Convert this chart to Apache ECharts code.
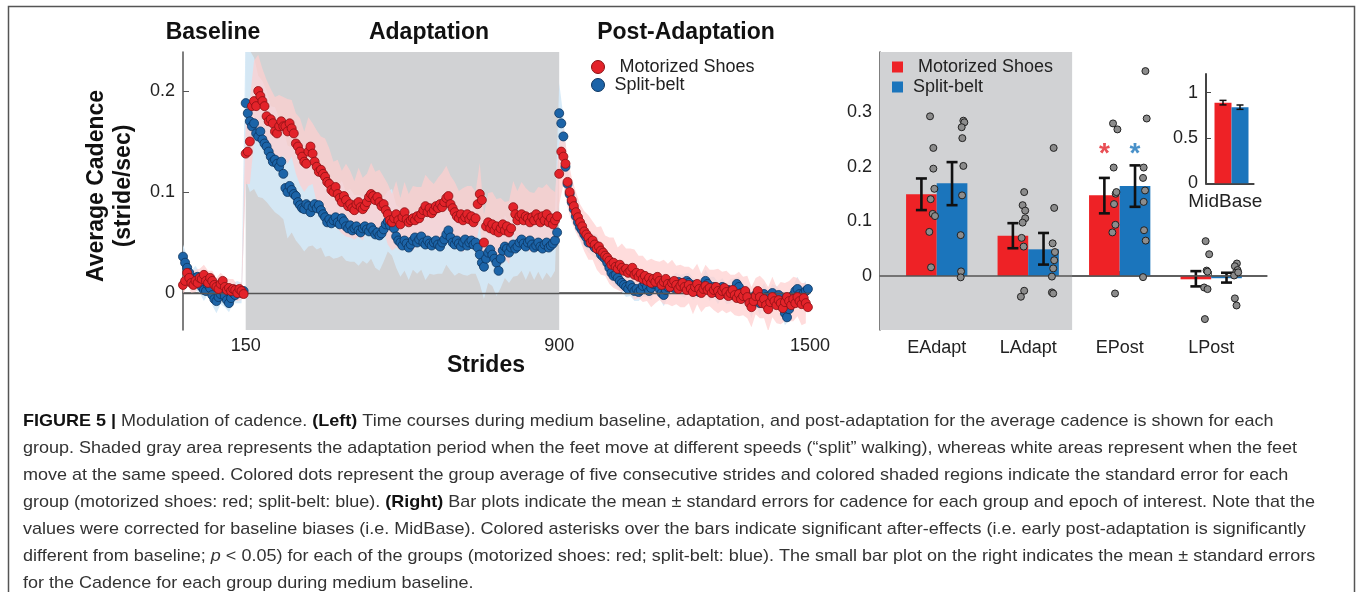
<!DOCTYPE html>
<html>
<head>
<meta charset="utf-8">
<script src="https://cdn.jsdelivr.net/npm/echarts@6/dist/echarts.min.js"></script>
<style>
html, body { margin: 0; padding: 0; background: #fff; }
#main { width: 1357px; height: 592px; }
</style>
</head>
<body>
<div id="main"></div>
<script>
// ---------- time course (left) : group means every 5 strides ----------
var BASE_START = 0, ADAPT_START = 150, POST_START = 900;
var DOT_STEP = 5, SE_STEP = 10;

var redBase = [0.008, 0.012, 0.02, 0.015, 0.01, 0.008, 0.012, 0.01, 0.015, 0.014,
  0.018, 0.012, 0.01, 0.015, 0.012, 0.008, 0.006, 0.004, 0.009, 0.012,
  0.006, 0.003, 0.005, 0.002, 0.004, 0.003, 0.0, 0.004, 0.002, -0.001];
var blueBase = [0.036, 0.03, 0.025, 0.02, 0.012, 0.009, 0.015, 0.016, 0.01, 0.006,
  0.003, 0.002, 0.008, 0.005, -0.002, -0.006, -0.008, -0.004, -0.001, 0.002,
  -0.003, -0.007, -0.01, -0.005, 0.0, -0.002, 0.001, 0.003, 0.0, 0.002];

var redAdapt = [
  0.138, 0.14, 0.15, 0.185, 0.19, 0.185, 0.2, 0.195, 0.19, 0.185,
  0.175, 0.17, 0.172, 0.168, 0.16, 0.158, 0.165, 0.17, 0.165, 0.165,
  0.16, 0.168, 0.163, 0.158, 0.148, 0.145, 0.14, 0.135, 0.13, 0.128,
  0.14, 0.145, 0.138, 0.13, 0.125, 0.12, 0.122, 0.118, 0.115, 0.11,
  0.108, 0.102, 0.1, 0.105, 0.098, 0.094, 0.09, 0.096, 0.092, 0.086,
  0.088, 0.084, 0.082, 0.088, 0.09, 0.085, 0.083, 0.086, 0.09, 0.095,
  0.098, 0.096, 0.092, 0.095, 0.09, 0.086, 0.088, 0.082, 0.078, 0.072,
  0.07, 0.074, 0.078, 0.072, 0.068, 0.075, 0.08, 0.073, 0.07, 0.072,
  0.074, 0.072, 0.076, 0.074, 0.078, 0.082, 0.086, 0.08, 0.084, 0.079,
  0.082, 0.086, 0.084, 0.088, 0.085, 0.09, 0.094, 0.096, 0.088, 0.084,
  0.08, 0.076, 0.074, 0.078, 0.072, 0.075, 0.078, 0.073, 0.076, 0.07,
  0.074, 0.088, 0.098, 0.092, 0.05, 0.066, 0.07, 0.064, 0.068, 0.062,
  0.066, 0.06, 0.064, 0.068, 0.062, 0.066, 0.06, 0.064, 0.085, 0.078,
  0.072, 0.076, 0.078, 0.072, 0.076, 0.074, 0.07, 0.075, 0.072, 0.078,
  0.074, 0.07, 0.076, 0.072, 0.078, 0.07, 0.074, 0.068, 0.072, 0.076];
var blueAdapt = [
  0.188, 0.178, 0.17, 0.165, 0.168, 0.158, 0.155, 0.16, 0.152, 0.148,
  0.145, 0.14, 0.135, 0.13, 0.132, 0.128, 0.125, 0.13, 0.118, 0.104,
  0.1, 0.106, 0.102, 0.098, 0.096, 0.09, 0.087, 0.084, 0.083, 0.088,
  0.086, 0.08, 0.085, 0.088, 0.084, 0.087, 0.082, 0.078, 0.075, 0.07,
  0.073, 0.069, 0.072, 0.075, 0.07, 0.068, 0.074, 0.071, 0.066, 0.064,
  0.067, 0.062, 0.064, 0.066, 0.062, 0.06, 0.064, 0.066, 0.063, 0.061,
  0.065, 0.062, 0.058, 0.06, 0.057, 0.059, 0.063, 0.068, 0.071, 0.067,
  0.07, 0.064, 0.056, 0.052, 0.05, 0.047, 0.052, 0.049, 0.045, 0.048,
  0.052, 0.055, 0.05, 0.053, 0.056, 0.05, 0.048, 0.052, 0.049, 0.047,
  0.05, 0.052, 0.048, 0.046, 0.05, 0.053, 0.058, 0.062, 0.055, 0.05,
  0.048, 0.052, 0.049, 0.046, 0.05, 0.053, 0.047, 0.05, 0.052, 0.048,
  0.05, 0.045, 0.038, 0.03, 0.026, 0.034, 0.04, 0.043, 0.038, 0.034,
  0.03, 0.022, 0.034, 0.042, 0.046, 0.044, 0.04, 0.045, 0.048, 0.044,
  0.046, 0.05, 0.053, 0.049, 0.046, 0.05, 0.052, 0.048, 0.045, 0.047,
  0.05, 0.046, 0.044, 0.048, 0.05, 0.045, 0.047, 0.049, 0.052, 0.06];

var redPost = [
  0.118, 0.14, 0.135, 0.128, 0.11, 0.1, 0.092, 0.086, 0.08, 0.075,
  0.07, 0.066, 0.061, 0.058, 0.055, 0.05, 0.052, 0.048, 0.044, 0.046,
  0.042, 0.04, 0.037, 0.035, 0.032, 0.028, 0.03, 0.026, 0.024, 0.028,
  0.025, 0.022, 0.024, 0.02, 0.022, 0.025, 0.018, 0.02, 0.016, 0.019,
  0.014, 0.017, 0.012, 0.015, 0.01, 0.014, 0.011, 0.016, 0.012, 0.008,
  0.011, 0.014, 0.009, 0.006, 0.01, 0.012, 0.008, 0.004, 0.007, 0.01,
  0.006, 0.003, 0.008, 0.004, 0.001, 0.006, 0.009, 0.004, 0.0, 0.004,
  0.007, 0.003, 0.005, 0.0, 0.003, 0.006, 0.002, -0.002, 0.002, 0.005,
  0.001, -0.003, 0.0, 0.003, -0.002, -0.005, -0.001, -0.006, -0.003, 0.002,
  -0.004, -0.01, -0.014, -0.008, -0.003, 0.002, -0.004, -0.01, -0.006, -0.012,
  -0.016, -0.009, -0.004, -0.008, -0.012, -0.007, -0.01, -0.015, -0.009, -0.004,
  -0.008, -0.012, -0.006, -0.01, -0.004, -0.008, -0.011, -0.005, -0.01, -0.014];
var bluePost = [
  0.178, 0.168, 0.155, 0.125, 0.108, 0.098, 0.09, 0.083, 0.076, 0.07,
  0.065, 0.062, 0.058, 0.055, 0.05, 0.052, 0.048, 0.045, 0.046, 0.042,
  0.038, 0.036, 0.034, 0.03, 0.025, 0.02, 0.017, 0.018, 0.015, 0.012,
  0.01, 0.008, 0.006, 0.004, 0.008, 0.005, 0.002, 0.004, 0.001, 0.003,
  0.007, 0.01, 0.006, 0.002, 0.005, 0.009, 0.012, 0.008, 0.004, 0.0,
  -0.002, 0.003, 0.006, 0.01, 0.008, 0.005, 0.009, 0.011, 0.008, 0.01,
  0.007, 0.012, 0.01, 0.006, 0.004, 0.008, 0.005, 0.001, 0.004, 0.008,
  0.012, 0.009, 0.004, 0.002, 0.006, 0.003, 0.0, 0.004, 0.006, 0.002,
  -0.001, 0.003, 0.002, -0.002, 0.004, 0.009, 0.006, 0.0, -0.004, 0.001,
  -0.003, -0.008, -0.012, -0.006, -0.002, -0.006, -0.01, -0.005, -0.001, -0.004,
  -0.008, -0.003, 0.0, -0.005, -0.004, -0.002, -0.008, -0.014, -0.02, -0.024,
  -0.016, -0.008, -0.002, 0.002, 0.004, -0.001, -0.004, 0.0, 0.002, 0.004];

// standard error, every 10 strides
var redSEBase = [0.01, 0.012, 0.01, 0.011, 0.009, 0.01, 0.012, 0.01, 0.009, 0.011, 0.01, 0.009, 0.01, 0.008, 0.009];
var blueSEBase = [0.012, 0.011, 0.01, 0.012, 0.01, 0.011, 0.009, 0.01, 0.012, 0.01, 0.011, 0.009, 0.01, 0.011, 0.01];
var redSEAdapt = [
  0.03, 0.042, 0.04, 0.036, 0.032, 0.036, 0.03, 0.034, 0.031, 0.029, 0.032, 0.028, 0.03, 0.033, 0.03,
  0.034, 0.03, 0.036, 0.033, 0.038, 0.035, 0.03, 0.034, 0.031, 0.036, 0.033, 0.029, 0.034, 0.031, 0.028,
  0.031, 0.028, 0.032, 0.027, 0.03, 0.028, 0.033, 0.026, 0.03, 0.028, 0.032, 0.029, 0.027, 0.031, 0.028,
  0.026, 0.03, 0.034, 0.032, 0.028, 0.03, 0.027, 0.032, 0.028, 0.03, 0.026, 0.031, 0.028, 0.029, 0.032,
  0.027, 0.03, 0.028, 0.031, 0.026, 0.029, 0.032, 0.028, 0.03, 0.027, 0.031, 0.028, 0.03, 0.029, 0.028];
var blueSEAdapt = [
  0.075, 0.07, 0.065, 0.06, 0.058, 0.055, 0.05, 0.052, 0.048, 0.045, 0.046, 0.042, 0.044, 0.04, 0.042,
  0.04, 0.038, 0.041, 0.037, 0.039, 0.036, 0.038, 0.035, 0.037, 0.034, 0.036, 0.033, 0.035, 0.032, 0.034,
  0.031, 0.033, 0.035, 0.032, 0.03, 0.033, 0.031, 0.034, 0.03, 0.032, 0.029, 0.031, 0.033, 0.035, 0.03,
  0.032, 0.029, 0.031, 0.03, 0.033, 0.031, 0.029, 0.032, 0.03, 0.033, 0.031, 0.029, 0.032, 0.03, 0.031,
  0.033, 0.029, 0.031, 0.03, 0.032, 0.029, 0.031, 0.033, 0.03, 0.032, 0.029, 0.031, 0.03, 0.032, 0.03];
var redSEPost = [
  0.03, 0.028, 0.025, 0.022, 0.02, 0.018, 0.02, 0.022, 0.019, 0.021,
  0.024, 0.02, 0.023, 0.025, 0.021, 0.024, 0.02, 0.022, 0.025, 0.021,
  0.023, 0.02, 0.024, 0.021, 0.019, 0.022, 0.02, 0.023, 0.019, 0.021,
  0.02, 0.018, 0.022, 0.02, 0.019, 0.021, 0.018, 0.02, 0.022, 0.019,
  0.021, 0.018, 0.02, 0.022, 0.019, 0.021, 0.02, 0.018, 0.021, 0.019,
  0.022, 0.02, 0.018, 0.021, 0.019, 0.02, 0.022, 0.019, 0.021, 0.02];
var blueSEPost = [
  0.03, 0.02, 0.015, 0.013, 0.012, 0.011, 0.012, 0.01, 0.011, 0.012,
  0.01, 0.011, 0.009, 0.01, 0.011, 0.009, 0.01, 0.011, 0.01, 0.009,
  0.011, 0.01, 0.012, 0.01, 0.009, 0.011, 0.01, 0.009, 0.011, 0.01,
  0.012, 0.01, 0.011, 0.009, 0.01, 0.011, 0.012, 0.01, 0.011, 0.009,
  0.01, 0.012, 0.011, 0.01, 0.009, 0.011, 0.013, 0.01, 0.012, 0.011,
  0.01, 0.009, 0.011, 0.01, 0.012, 0.011, 0.01, 0.012, 0.011, 0.01];

var strideTicks = [150, 900, 1500];
var cadenceTicks = [0, 0.1, 0.2];

// ---------- epochs (right) ----------
var epochs = ['EAdapt', 'LAdapt', 'EPost', 'LPost'];
var redMeans = [0.15, 0.074, 0.148, -0.006];
var redLo = [0.121, 0.051, 0.115, -0.019];
var redHi = [0.179, 0.097, 0.18, 0.009];
var blueMeans = [0.17, 0.049, 0.165, -0.004];
var blueLo = [0.13, 0.021, 0.127, -0.012];
var blueHi = [0.209, 0.079, 0.203, 0.006];

var redSubj = [
  [0.293, 0.235, 0.197, 0.16, 0.141, 0.114, 0.11, 0.081, 0.016],
  [0.154, 0.13, 0.12, 0.106, 0.098, 0.07, 0.054, -0.027, -0.038],
  [0.28, 0.269, 0.199, 0.151, 0.154, 0.132, 0.094, 0.08, -0.032],
  [0.064, 0.04, 0.01, 0.008, -0.021, -0.024, -0.079]];
var redJitter = [
  [-0.073, -0.037, -0.037, -0.026, -0.066, -0.044, -0.019, -0.081, -0.062],
  [-0.044, -0.061, -0.033, -0.033, -0.061, -0.072, -0.05, -0.044, -0.08],
  [-0.073, -0.025, -0.066, -0.044, -0.036, -0.062, -0.047, -0.08, -0.051],
  [-0.061, -0.022, -0.05, -0.04, -0.077, -0.04, -0.069]];
var blueSubj = [
  [0.285, 0.282, 0.273, 0.253, 0.202, 0.148, 0.075, 0.0085, -0.0024],
  [0.235, 0.125, 0.06, 0.044, 0.029, 0.014, -0.001, -0.03, -0.032],
  [0.376, 0.289, 0.199, 0.18, 0.157, 0.136, 0.084, 0.065, -0.002],
  [0.023, 0.018, 0.011, 0.006, 0.001, 0.0067, -0.041, -0.054]];
var blueJitter = [
  [0.291, 0.302, 0.273, 0.28, 0.291, 0.277, 0.262, 0.266, 0.262],
  [0.278, 0.284, 0.267, 0.292, 0.284, 0.273, 0.259, 0.259, 0.273],
  [0.281, 0.295, 0.262, 0.255, 0.277, 0.262, 0.266, 0.284, 0.255],
  [0.281, 0.259, 0.288, 0.27, 0.251, 0.295, 0.259, 0.277]];
var sigEpoch = 3, sigLevel = 0.237;   // asterisks over EPost
var epochTicks = [0, 0.1, 0.2, 0.3];

// ---------- MidBase inset ----------
var midRed = 0.89, midRedLo = 0.865, midRedHi = 0.915;
var midBlue = 0.838, midBlueLo = 0.816, midBlueHi = 0.864;
var midTicks = [0, 0.5, 1];

// ---------- build ----------
var FONT = 'Liberation Sans';
var RED = '#e3232a', BLUE = '#1c64a8';
var BAR_RED = '#ee2226', BAR_BLUE = '#1b75bc';
var GRAY = '#d1d2d4';
var OFF = 0.1675;   // half bar width, in epoch units

function seq(arr, start) {
  return arr.map(function (v, i) { return [start + i * DOT_STEP, v]; });
}
function band(means, ses, start) {
  return ses.map(function (se, k) {
    var m = means[k * 2];
    return [start + k * SE_STEP, m - se, m + se];
  });
}
var redPts = seq(redBase, BASE_START).concat(seq(redAdapt, ADAPT_START), seq(redPost, POST_START));
var bluePts = seq(blueBase, BASE_START).concat(seq(blueAdapt, ADAPT_START), seq(bluePost, POST_START));
var redBand = band(redBase, redSEBase, BASE_START).concat(band(redAdapt, redSEAdapt, ADAPT_START), band(redPost, redSEPost, POST_START));
var blueBand = band(blueBase, blueSEBase, BASE_START).concat(band(blueAdapt, blueSEAdapt, ADAPT_START), band(bluePost, blueSEPost, POST_START));

function bandRender(points, fill) {
  return function (params, api) {
    if (params.dataIndex !== 0) return null;
    var up = [], lo = [];
    points.forEach(function (p) {
      up.push(api.coord([p[0], p[2]]));
      lo.push(api.coord([p[0], p[1]]));
    });
    return { type: 'polygon', shape: { points: up.concat(lo.reverse()) }, style: { fill: fill } };
  };
}
function barRender(off, hw, color) {
  return function (params, api) {
    var x = api.value(0) + off, v = api.value(1);
    var a = api.coord([x - hw, v]), b = api.coord([x + hw, 0]);
    return { type: 'rect', shape: { x: a[0], y: Math.min(a[1], b[1]), width: b[0] - a[0], height: Math.abs(b[1] - a[1]) }, style: { fill: color } };
  };
}
function errRender(off, cap, lw) {
  return function (params, api) {
    var x = api.value(0) + off;
    var lo = api.coord([x, api.value(1)]), hi = api.coord([x, api.value(2)]);
    var st = { stroke: '#111', lineWidth: lw };
    return { type: 'group', children: [
      { type: 'line', shape: { x1: lo[0], y1: lo[1], x2: hi[0], y2: hi[1] }, style: st },
      { type: 'line', shape: { x1: lo[0] - cap, y1: lo[1], x2: lo[0] + cap, y2: lo[1] }, style: st },
      { type: 'line', shape: { x1: hi[0] - cap, y1: hi[1], x2: hi[0] + cap, y2: hi[1] }, style: st }
    ] };
  };
}
function subjPts(vals, jit) {
  var out = [];
  vals.forEach(function (row, i) {
    row.forEach(function (v, j) { out.push([i + 1 + jit[i][j], v]); });
  });
  return out;
}

var redBars = redMeans.map(function (v, i) { return [i + 1, v]; });
var blueBars = blueMeans.map(function (v, i) { return [i + 1, v]; });
var redErr = redMeans.map(function (v, i) { return [i + 1, redLo[i], redHi[i]]; });
var blueErr = blueMeans.map(function (v, i) { return [i + 1, blueLo[i], blueHi[i]]; });

var caption = [
  '{b|FIGURE 5 |} Modulation of cadence. {b|(Left)} Time courses during medium baseline, adaptation, and post-adaptation for the average cadence is shown for each',
  'group. Shaded gray area represents the adaptation period when the feet move at different speeds (\u201csplit\u201d walking), whereas white areas represent when the feet',
  'move at the same speed. Colored dots represent the group average of five consecutive strides and colored shaded regions indicate the standard error for each',
  'group (motorized shoes: red; split-belt: blue). {b|(Right)} Bar plots indicate the mean \u00b1 standard errors for cadence for each group and epoch of interest. Note that the',
  'values were corrected for baseline biases (i.e. MidBase). Colored asterisks over the bars indicate significant after-effects (i.e. early post-adaptation is significantly',
  'different from baseline; {i|p} < 0.05) for each of the groups (motorized shoes: red; split-belt: blue). The small bar plot on the right indicates the mean \u00b1 standard errors',
  'for the Cadence for each group during medium baseline.'
];
var ctx = document.createElement('canvas').getContext('2d');
ctx.font = '17px "' + FONT + '"';
var capScale = 1274 / ctx.measureText(caption[1]).width;

function axisCommon(color, w) {
  return { show: true, lineStyle: { color: color, width: w } };
}
function plainNum(v) { return String(+v.toFixed(2)); }
var lblStyle = { fontFamily: FONT, fontSize: 18, color: '#222' };

var chart = echarts.init(document.getElementById('main'));
chart.setOption({
  animation: false,
  backgroundColor: '#fff',
  textStyle: { fontFamily: FONT },
  grid: [
    { left: 183, top: 52, width: 627, height: 278, outerBoundsMode: 'none' },
    { left: 880, top: 52, width: 387, height: 278, outerBoundsMode: 'none' },
    { left: 1206, top: 74, width: 47.6, height: 109.3, outerBoundsMode: 'none' }
  ],
  xAxis: [
    { gridIndex: 0, type: 'value', min: 0, max: 1500, splitLine: { show: false },
      axisLine: axisCommon('#555', 1.5), axisTick: { show: false },
      axisLabel: Object.assign({ customValues: strideTicks, margin: 7, showMaxLabel: true, formatter: plainNum }, lblStyle) },
    { gridIndex: 1, type: 'value', min: 0.38, max: 4.61, splitLine: { show: false },
      axisLine: axisCommon('#555', 1.5),
      axisTick: { inside: true, length: 5, customValues: [1, 2, 3, 4], lineStyle: { color: '#555' } },
      axisLabel: Object.assign({ customValues: [1, 2, 3, 4], margin: 9,
        formatter: function (v) { return epochs[Math.round(v) - 1] || ''; } }, lblStyle) },
    { gridIndex: 2, type: 'value', min: 0, max: 2.8, splitLine: { show: false },
      axisLine: axisCommon('#444', 2), axisTick: { show: false }, axisLabel: { show: false },
      name: 'MidBase', nameLocation: 'middle', nameGap: 9,
      nameTextStyle: { fontFamily: FONT, fontSize: 19, color: '#222', padding: [0, 9, 0, 0] } }
  ],
  yAxis: [
    { gridIndex: 0, type: 'value', min: -0.0366, max: 0.2386, splitLine: { show: false },
      axisLine: axisCommon('#555', 1.5),
      axisTick: { inside: true, length: 6, customValues: cadenceTicks, lineStyle: { color: '#555' } },
      axisLabel: Object.assign({ customValues: cadenceTicks, margin: 8, formatter: plainNum }, lblStyle) },
    { gridIndex: 1, type: 'value', min: -0.099, max: 0.411, splitLine: { show: false },
      axisLine: axisCommon('#555', 1.5),
      axisTick: { inside: true, length: 5, customValues: epochTicks, lineStyle: { color: '#555' } },
      axisLabel: Object.assign({ customValues: epochTicks, margin: 8, formatter: plainNum }, lblStyle) },
    { gridIndex: 2, type: 'value', min: 0, max: 1.206, splitLine: { show: false },
      axisLine: axisCommon('#444', 2),
      axisTick: { inside: true, length: 5, customValues: midTicks, lineStyle: { color: '#444' } },
      axisLabel: Object.assign({ customValues: midTicks, margin: 8, formatter: plainNum }, lblStyle) }
  ],
  legend: [
    { orient: 'vertical', left: 591, top: 58, padding: 0, itemGap: 0, itemWidth: 13, itemHeight: 13,
      icon: 'circle', selectedMode: false,
      textStyle: { fontFamily: FONT, fontSize: 18, color: '#222', lineHeight: 18 },
      formatter: function (n) { return (n === 'Motorized Shoes' ? '  ' : ' ') + n; },
      data: [
        { name: 'Motorized Shoes', itemStyle: { color: RED, borderColor: '#8a1014', borderWidth: 1 } },
        { name: 'Split-belt', itemStyle: { color: BLUE, borderColor: '#0d3560', borderWidth: 1 } }
      ] },
    { orient: 'vertical', left: 892, top: 57, padding: 0, itemGap: 0, itemWidth: 11, itemHeight: 11,
      icon: 'rect', selectedMode: false,
      textStyle: { fontFamily: FONT, fontSize: 18, color: '#222', lineHeight: 20 },
      formatter: function (n) { return (n === 'Motorized Shoes' ? '  ' : ' ') + n; },
      data: [
        { name: 'Motorized Shoes', itemStyle: { color: BAR_RED, borderWidth: 0 } },
        { name: 'Split-belt', itemStyle: { color: BAR_BLUE, borderWidth: 0 } }
      ] }
  ],
  series: [
    // left panel
    { type: 'line', xAxisIndex: 0, yAxisIndex: 0, data: [], z: 0, silent: true,
      markArea: { silent: true, itemStyle: { color: GRAY }, data: [[{ xAxis: ADAPT_START }, { xAxis: POST_START }]] } },
    { type: 'custom', name: 'Split-belt SE', xAxisIndex: 0, yAxisIndex: 0, z: 2, silent: true, clip: true,
      data: blueBand, renderItem: bandRender(blueBand, 'rgba(212,233,247,0.9)') },
    { type: 'custom', name: 'Motorized Shoes SE', xAxisIndex: 0, yAxisIndex: 0, z: 2, silent: true, clip: true,
      data: redBand, renderItem: bandRender(redBand, 'rgba(255,206,206,0.72)') },
    { type: 'line', xAxisIndex: 0, yAxisIndex: 0, data: [], z: 3, silent: true,
      markLine: { silent: true, symbol: 'none', label: { show: false }, lineStyle: { color: '#555', width: 1.3, type: 'solid' },
        data: [{ yAxis: 0 }] } },
    { type: 'scatter', name: 'Split-belt', xAxisIndex: 0, yAxisIndex: 0, z: 4, symbolSize: 9,
      itemStyle: { color: BLUE, borderColor: '#0d3560', borderWidth: 0.8, opacity: 1 }, data: bluePts },
    { type: 'scatter', name: 'Motorized Shoes', xAxisIndex: 0, yAxisIndex: 0, z: 5, symbolSize: 9,
      itemStyle: { color: RED, borderColor: '#8a1014', borderWidth: 0.8, opacity: 1 }, data: redPts },

    // right panel
    { type: 'line', xAxisIndex: 1, yAxisIndex: 1, data: [], z: 0, silent: true,
      markArea: { silent: true, itemStyle: { color: GRAY }, data: [[{ xAxis: 0.38 }, { xAxis: 2.48 }]] } },
    { type: 'custom', name: 'Motorized Shoes', xAxisIndex: 1, yAxisIndex: 1, z: 2, data: redBars,
      renderItem: barRender(-OFF, OFF, BAR_RED) },
    { type: 'custom', name: 'Split-belt', xAxisIndex: 1, yAxisIndex: 1, z: 2, data: blueBars,
      renderItem: barRender(OFF, OFF, BAR_BLUE) },
    { type: 'line', xAxisIndex: 1, yAxisIndex: 1, data: [], z: 3, silent: true,
      markLine: { silent: true, symbol: 'none', label: { show: false }, lineStyle: { color: '#555', width: 1.5, type: 'solid' },
        data: [{ yAxis: 0 }] } },
    { type: 'custom', xAxisIndex: 1, yAxisIndex: 1, z: 4, data: redErr, renderItem: errRender(-OFF, 5.5, 2.6) },
    { type: 'custom', xAxisIndex: 1, yAxisIndex: 1, z: 4, data: blueErr, renderItem: errRender(OFF, 5.5, 2.6) },
    { type: 'scatter', xAxisIndex: 1, yAxisIndex: 1, z: 5, symbolSize: 7,
      itemStyle: { color: '#8c8c8c', borderColor: '#222', borderWidth: 1, opacity: 1 },
      data: subjPts(redSubj, redJitter).concat(subjPts(blueSubj, blueJitter)) },
    { type: 'scatter', xAxisIndex: 1, yAxisIndex: 1, z: 6, symbolSize: 0,
      data: [[sigEpoch - OFF, sigLevel]],
      label: { show: true, position: 'inside', formatter: '*', color: RED, fontSize: 28, fontWeight: 'bold', fontFamily: FONT, offset: [0, 7] } },
    { type: 'scatter', xAxisIndex: 1, yAxisIndex: 1, z: 6, symbolSize: 0,
      data: [[sigEpoch + OFF, sigLevel]],
      label: { show: true, position: 'inside', formatter: '*', color: BAR_BLUE, fontSize: 28, fontWeight: 'bold', fontFamily: FONT, offset: [0, 7] } },

    // MidBase inset
    { type: 'custom', xAxisIndex: 2, yAxisIndex: 2, z: 2, data: [[1, midRed]], renderItem: barRender(0, 0.5, BAR_RED) },
    { type: 'custom', xAxisIndex: 2, yAxisIndex: 2, z: 2, data: [[2, midBlue]], renderItem: barRender(0, 0.5, BAR_BLUE) },
    { type: 'custom', xAxisIndex: 2, yAxisIndex: 2, z: 4,
      data: [[1, midRedLo, midRedHi], [2, midBlueLo, midBlueHi]], renderItem: errRender(0, 3.5, 1.5) }
  ],
  graphic: [
    { type: 'rect', silent: true, z: 100, shape: { x: 8.5, y: 6.5, width: 1346, height: 600 },
      style: { fill: 'none', stroke: '#555', lineWidth: 1.5 } },
    { type: 'text', x: 213, y: 33, style: { text: 'Baseline', font: 'bold 23px "' + FONT + '"', fill: '#111', align: 'center', verticalAlign: 'middle' } },
    { type: 'text', x: 429, y: 33, style: { text: 'Adaptation', font: 'bold 23px "' + FONT + '"', fill: '#111', align: 'center', verticalAlign: 'middle' } },
    { type: 'text', x: 686, y: 33, style: { text: 'Post-Adaptation', font: 'bold 23px "' + FONT + '"', fill: '#111', align: 'center', verticalAlign: 'middle' } },
    { type: 'text', x: 486, y: 366, style: { text: 'Strides', font: 'bold 23px "' + FONT + '"', fill: '#111', align: 'center', verticalAlign: 'middle' } },
    { type: 'text', x: 110.5, y: 186, rotation: Math.PI / 2,
      style: { text: 'Average Cadence\n(stride/sec)', font: 'bold 23px "' + FONT + '"', lineHeight: 27, fill: '#111', align: 'center', verticalAlign: 'middle' } }
  ].concat(caption.map(function (line, i) {
    return { type: 'text', x: 23, y: 421 + i * 27, scaleX: capScale, silent: true,
      style: { text: line, fontFamily: FONT, fontSize: 17, fill: '#333', verticalAlign: 'middle',
        rich: {
          b: { fontFamily: FONT, fontSize: 17, fontWeight: 'bold', fill: '#111' },
          i: { fontFamily: FONT, fontSize: 17, fontStyle: 'italic', fill: '#333' }
        } } };
  }))
});
</script>
</body>
</html>
